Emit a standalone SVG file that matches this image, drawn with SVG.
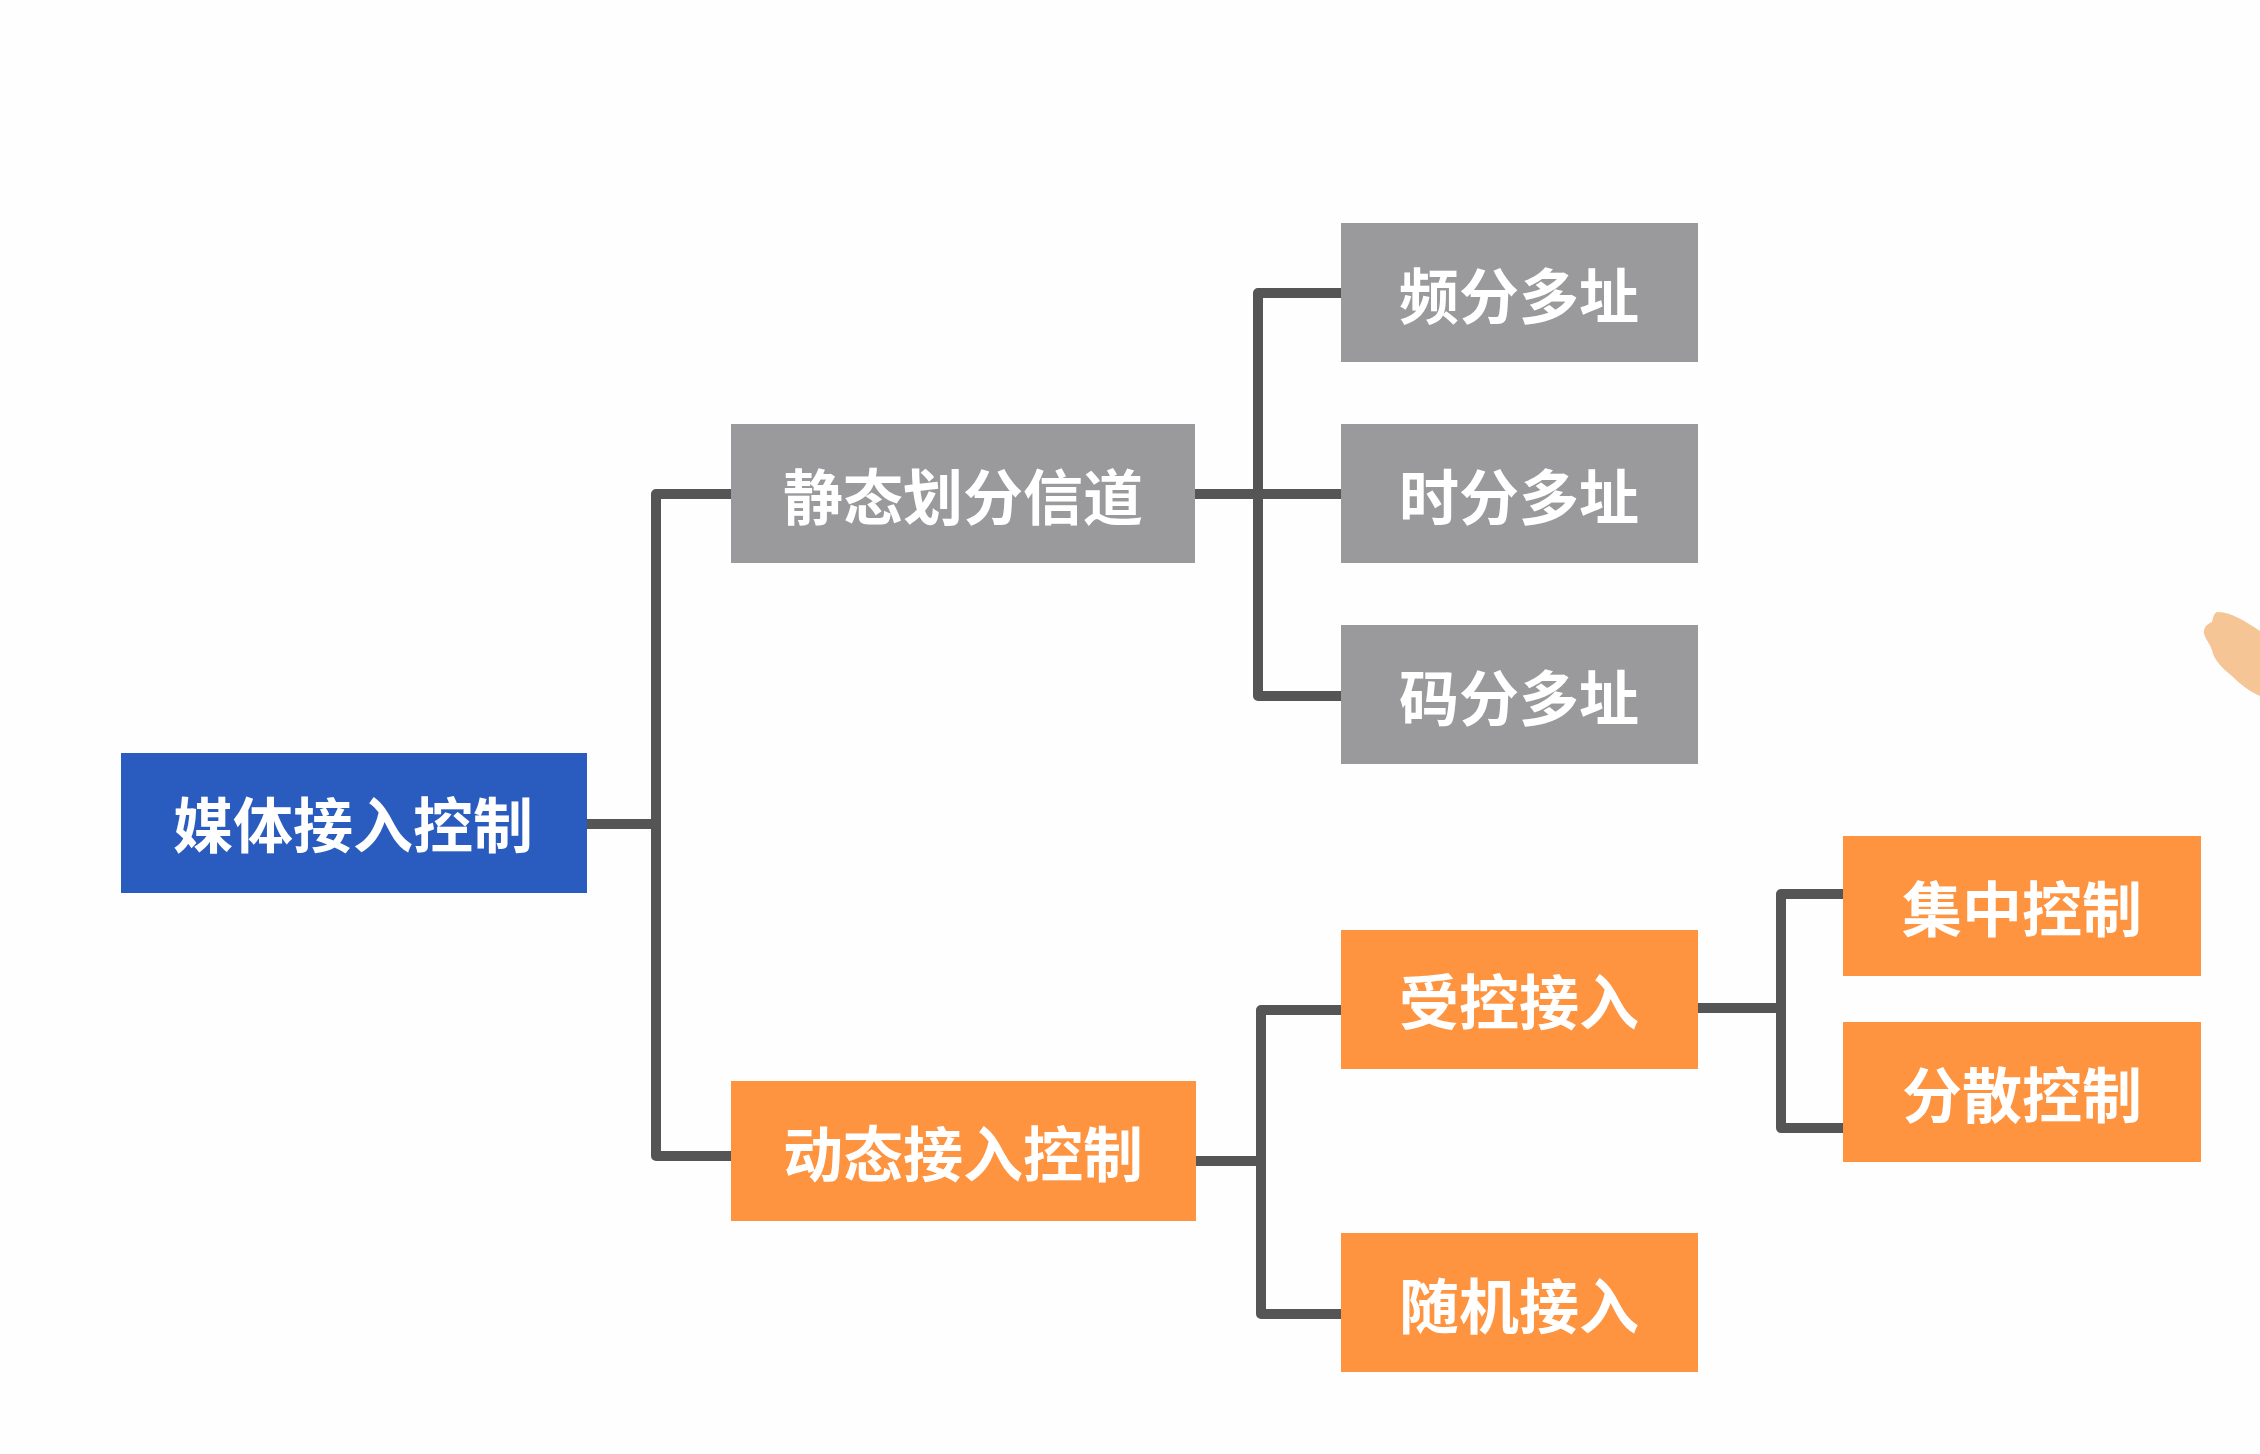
<svg xmlns="http://www.w3.org/2000/svg" width="2260" height="1454" viewBox="0 0 2260 1454">
<style>
.blue{fill:#2a5bbf}.gray{fill:#9a9a9c}.orange{fill:#fe9340}
text{font-family:"Noto Sans CJK SC","Noto Sans",sans-serif;font-size:60px;font-weight:700;fill:#fff;text-anchor:middle}
#connectors path{fill:none;stroke:#555;stroke-width:10;stroke-linejoin:round}
</style>
<rect width="2260" height="1454" fill="#fefefe"/>
<g id="connectors">
<path d="M587 824H656M731 494H656V1156H731"/>
<path d="M1195 494H1341M1341 293H1258V696H1341"/>
<path d="M1196 1161H1261M1341 1010H1261V1314H1341"/>
<path d="M1698 1008H1781M1843 894H1781V1128H1843"/>
</g>
<g id="root"><rect class="blue" x="121" y="753" width="466" height="140"/><text x="353" y="848">媒体接入控制</text></g>
<g id="static"><rect class="gray" x="731" y="424" width="464" height="139"/><text x="963" y="520">静态划分信道</text></g>
<g id="dynamic"><rect class="orange" x="731" y="1081" width="465" height="140"/><text x="963" y="1177">动态接入控制</text></g>
<g id="fdma"><rect class="gray" x="1341" y="223" width="357" height="139"/><text x="1519" y="319">频分多址</text></g>
<g id="tdma"><rect class="gray" x="1341" y="424" width="357" height="139"/><text x="1519" y="520">时分多址</text></g>
<g id="cdma"><rect class="gray" x="1341" y="625" width="357" height="139"/><text x="1519" y="721">码分多址</text></g>
<g id="controlled"><rect class="orange" x="1341" y="930" width="357" height="139"/><text x="1519" y="1025">受控接入</text></g>
<g id="random"><rect class="orange" x="1341" y="1233" width="357" height="139"/><text x="1519" y="1329">随机接入</text></g>
<g id="central"><rect class="orange" x="1843" y="836" width="358" height="140"/><text x="2022" y="932">集中控制</text></g>
<g id="distributed"><rect class="orange" x="1843" y="1022" width="358" height="140"/><text x="2022" y="1118">分散控制</text></g>
<path id="hand" d="M2260 631C2246 622 2232 612 2218 612C2214 612 2213 618 2212 622C2207 624 2203 628 2204 634C2206 640 2210 644 2212 650C2214 660 2222 668 2232 676C2240 684 2250 692 2260 696Z" fill="#f5c595"/>
</svg>
